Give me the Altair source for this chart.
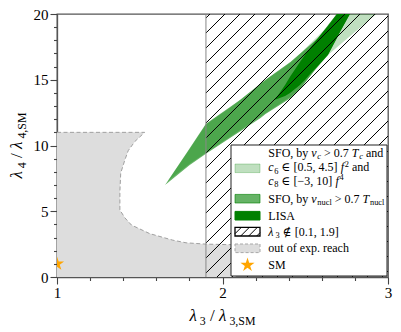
import altair as alt
import pandas as pd

FONT = "Liberation Serif, DejaVu Serif, serif"
W, H = 331, 263  # plot area in px

# ---------------- data ----------------
# out of experimental reach: boundary lambda3 as a function of lambda4
gray_l4 = [0.0, 2.45, 2.5, 2.6, 2.8, 3.3, 3.95, 4.5, 5.1, 6.5, 7.9, 8.9, 9.6, 10.3, 11.0]
gray_l3 = [2.08, 2.08, 1.90, 1.78, 1.70, 1.56, 1.45, 1.41, 1.38, 1.38, 1.385, 1.41, 1.43, 1.47, 1.53]

# SFO by v_c > 0.7 T_c and c6, c8 ranges (light)
light_l3 = [1.67, 1.80, 1.90, 2.05, 2.23, 2.41, 2.47, 2.64, 2.69, 2.77, 2.93]
light_lo = [7.3, 8.6, 9.45, 10.7, 12.2, 13.7, 14.4, 16.9, 17.45, 18.3, 20.0]
light_hi = [7.3, 9.7, 11.6, 12.9, 14.7, 16.3, 17.0, 19.1, 20.0, 20.0, 20.0]

# SFO by v_nucl > 0.7 T_nucl (medium)
sfo_l3 = [1.653, 1.80, 1.90, 2.05, 2.11, 2.23, 2.26, 2.41, 2.47, 2.58, 2.64, 2.69, 2.76, 2.77]
sfo_lo = [6.99, 8.5, 9.37, 10.6, 11.1, 12.1, 12.4, 13.6, 14.3, 16.1, 16.95, 18.2, 19.8, 20.0]
sfo_hi = [6.99, 9.76, 11.65, 12.97, 13.5, 14.72, 15.0, 16.35, 17.0, 18.2, 19.2, 20.0, 20.0, 20.0]

# LISA (dark)
lisa_l3 = [2.317, 2.378, 2.408, 2.468, 2.498, 2.529, 2.577, 2.637, 2.692, 2.710, 2.770]
lisa_lo = [13.47, 13.77, 14.0, 14.61, 14.99, 15.44, 16.05, 16.89, 18.18, 18.64, 20.0]
lisa_hi = [13.47, 14.61, 15.22, 16.35, 16.89, 17.42, 18.18, 19.09, 20.0, 20.0, 20.0]

# excluded lambda3 band
excl_l3 = [1.9, 3.0]

# Standard Model point
sm_l3 = [1.0]
sm_l4 = [1.0]

x_ticks = [round(1 + 0.2 * i, 1) for i in range(11)]
y_ticks = list(range(0, 21))

# ---------------- helpers ----------------
def px2x(px):
    return 1.0 + px / W * 2.0


def py2y(py):
    return 20.0 - py / H * 20.0


CW = {' ': 250, ',': 250, '.': 250, '[': 333, ']': 333, '\u2212': 564, '>': 564,
      '\u2208': 760, '\u2209': 760, '/': 278, '\u03bb': 550,
      'S': 556, 'F': 556, 'O': 722, 'L': 611, 'I': 333, 'A': 722, 'M': 889, 'T': 556,
      'a': 444, 'b': 500, 'c': 444, 'd': 500, 'e': 444, 'f': 278, 'h': 500, 'l': 278,
      'n': 500, 'o': 500, 'p': 500, 'r': 333, 't': 278, 'u': 500, 'v': 444, 'x': 500, 'y': 500}
for d in '0123456789':
    CW[d] = 500

STY = {'r': (False, 1.0, 0.0), 'i': (True, 1.0, 0.0), 'sub': (False, 0.7, 0.22),
       'isub': (True, 0.7, 0.22), 'sup': (False, 0.7, -0.4)}


def width(s, size):
    return sum(CW.get(ch, 500) for ch in s) / 1000.0 * size


def layout(segs, base, x0, y0, rotated=False):
    rows = []
    adv = 0.0
    for s, k in segs:
        it, sc, sh = STY[k]
        size = base * sc
        core = s.strip(' ')
        lead = len(s) - len(s.lstrip(' '))
        adv += lead * 0.25 * size
        if core:
            if rotated:
                px, py = x0 + sh * base, y0 - adv
            else:
                px, py = x0 + adv, y0 + sh * base
            rows.append(dict(x=px2x(px), y=py2y(py), text=core, fs=size, it=it))
            adv += width(core, size)
            if it and k == 'i':
                adv += 0.06 * size
            adv += (len(s) - len(s.rstrip(' '))) * 0.25 * size
    return rows, adv


def hatch(x0, x1, y0, y1, spacing, phase):
    """45-degree hatch segments (pixel space) clipped to a rectangle; returns data coords."""
    out = []
    c = phase
    while c - spacing > x0 + y0 - 2 * spacing:
        c -= spacing
    while c < x1 + y1 + spacing:
        lo = max(x0, c - y1)
        hi = min(x1, c - y0)
        if hi > lo:
            out.append(dict(x=px2x(lo), y=py2y(c - lo), x2=px2x(hi), y2=py2y(c - hi)))
        c += spacing
    return out


xscale = alt.Scale(domain=[1, 3], nice=False, zero=False)
yscale = alt.Scale(domain=[0, 20], nice=False, zero=False)

xaxis = alt.Axis(
    values=x_ticks, title=None, grid=False,
    labelExpr="abs(datum.value - round(datum.value)) < 0.001 ? format(datum.value, 'd') : ''",
    tickSize={"condition": {"test": "abs(datum.value - round(datum.value)) < 0.001", "value": 7}, "value": 3.5},
    labelFont=FONT, labelFontSize=15, labelColor="black", labelPadding=1,
    labelFlush=False, labelOverlap=False,
    domainColor="#555", domainWidth=1.3, tickColor="#444", tickWidth=1.1,
)
yaxis = alt.Axis(
    values=y_ticks, title=None, grid=False,
    labelExpr="datum.value % 5 === 0 ? datum.label : ''",
    tickSize={"condition": {"test": "datum.value % 5 === 0", "value": 7}, "value": 3.5},
    labelFont=FONT, labelFontSize=15, labelColor="black", labelPadding=2,
    labelFlush=False, labelOverlap=False,
    domainColor="#555", domainWidth=1.3, tickColor="#444", tickWidth=1.1,
)


def XE(f="x"):
    return alt.X(f + ":Q", scale=xscale, axis=xaxis, title=None)


def YE(f="y"):
    return alt.Y(f + ":Q", scale=yscale, axis=yaxis, title=None)


layers = []

# gray region
gdf = pd.DataFrame({"y": gray_l4, "x": gray_l3, "x2": [1.0] * len(gray_l4)})
layers.append(alt.Chart(gdf).mark_area(orient="horizontal", color="#dddddd", clip=True).encode(
    y=YE(), x=XE(), x2=alt.X2("x2:Q")))
out_x = [1.0, gray_l3[-1]] + gray_l3[::-1][1:]
out_y = [gray_l4[-1], gray_l4[-1]] + gray_l4[::-1][1:]
odf = pd.DataFrame({"x": out_x, "y": out_y, "o": list(range(len(out_x)))})
layers.append(alt.Chart(odf).mark_line(color="#a0a0a0", strokeWidth=1, strokeDash=[4, 2.5], clip=True).encode(
    x=XE(), y=YE(), order=alt.Order("o:Q")))

# green bands
for xs, lo, hi, op in [(light_l3, light_lo, light_hi, 0.25), (sfo_l3, sfo_lo, sfo_hi, 0.6),
                       (lisa_l3, lisa_lo, lisa_hi, 1.0)]:
    df = pd.DataFrame({"x": xs, "y": lo, "y2": hi})
    layers.append(alt.Chart(df).mark_area(color="#008000", opacity=op, clip=True).encode(
        x=XE(), y=YE(), y2=alt.Y2("y2:Q")))

# hatched excluded region
xa = (excl_l3[0] - 1.0) / 2.0 * W
hdf = pd.DataFrame(hatch(xa, W, 0, H, 15, 3))
layers.append(alt.Chart(hdf).mark_rule(color="black", strokeWidth=1, clip=True).encode(
    x=XE(), y=YE(), x2=alt.X2("x2:Q"), y2=alt.Y2("y2:Q")))
edf = pd.DataFrame({"x": [excl_l3[0]], "y": [0.0], "y2": [20.0]})
layers.append(alt.Chart(edf).mark_rule(color="#888", strokeWidth=1).encode(
    x=XE(), y=YE(), y2=alt.Y2("y2:Q")))

STAR = ("M0,-1L0.2245,-0.309L0.9511,-0.309L0.3633,0.118L0.5878,0.809L0,0.382"
        "L-0.5878,0.809L-0.3633,0.118L-0.9511,-0.309L-0.2245,-0.309Z")
sdf = pd.DataFrame({"x": sm_l3, "y": sm_l4})
layers.append(alt.Chart(sdf).mark_point(shape=STAR, filled=True, size=220, color="#ffa500",
                                        opacity=1, clip=True).encode(x=XE(), y=YE()))

# ---------------- legend ----------------
LB = dict(x0=174, x1=330, y0=131, y1=262)
bdf = pd.DataFrame([dict(x=px2x(LB["x0"]), x2=px2x(LB["x1"]), y=py2y(LB["y0"]), y2=py2y(LB["y1"]))])
layers.append(alt.Chart(bdf).mark_rect(fill="white", stroke="#222", strokeWidth=1).encode(
    x=XE(), x2=alt.X2("x2:Q"), y=YE(), y2=alt.Y2("y2:Q")))

PX0, PX1, PH = 178, 203, 4.3
centers = [154.3, 184.7, 201.7, 217.7, 234.3]


def patch_df(cy):
    return pd.DataFrame([dict(x=px2x(PX0), x2=px2x(PX1), y=py2y(cy - PH), y2=py2y(cy + PH))])


for cy, op in zip(centers[:3], [0.25, 0.6, 1.0]):
    layers.append(alt.Chart(patch_df(cy)).mark_rect(fill="#008000", fillOpacity=op, stroke="#008000",
                                                     strokeOpacity=op, strokeWidth=1).encode(
        x=XE(), x2=alt.X2("x2:Q"), y=YE(), y2=alt.Y2("y2:Q")))
# hatch patch
layers.append(alt.Chart(patch_df(centers[3])).mark_rect(fill="white", stroke="black", strokeWidth=1.3).encode(
    x=XE(), x2=alt.X2("x2:Q"), y=YE(), y2=alt.Y2("y2:Q")))
lh = pd.DataFrame(hatch(PX0, PX1, centers[3] - PH, centers[3] + PH, 8, PX0 + centers[3] + 2))
layers.append(alt.Chart(lh).mark_rule(color="black", strokeWidth=1).encode(
    x=XE(), y=YE(), x2=alt.X2("x2:Q"), y2=alt.Y2("y2:Q")))
# gray patch
layers.append(alt.Chart(patch_df(centers[4])).mark_rect(fill="#dddddd", stroke="#a8a8a8", strokeWidth=1,
                                                         strokeDash=[3, 2]).encode(
    x=XE(), x2=alt.X2("x2:Q"), y=YE(), y2=alt.Y2("y2:Q")))
# star
stdf = pd.DataFrame([dict(x=px2x((PX0 + PX1) / 2), y=py2y(251))])
layers.append(alt.Chart(stdf).mark_point(shape=STAR, filled=True, size=220, color="#ffa500", opacity=1).encode(
    x=XE(), y=YE()))

TX = 211.3
leg_lines = [
    (142.7, [("SFO, by ", "r"), ("v", "i"), ("c", "isub"), (" > 0.7 ", "r"), ("T", "i"), ("c", "isub"), (" and", "r")]),
    (157.3, [("c", "i"), ("6", "sub"), (" \u2208 [0.5, 4.5] ", "r"), ("f", "i"), ("2", "sup"), (" and", "r")]),
    (170.7, [("c", "i"), ("8", "sub"), (" \u2208 [\u22123, 10] ", "r"), ("f", "i"), ("4", "sup")]),
    (188.7, [("SFO, by ", "r"), ("v", "i"), ("nucl", "sub"), (" > 0.7 ", "r"), ("T", "i"), ("nucl", "sub")]),
    (205.7, [("LISA", "r")]),
    (221.7, [("\u03bb", "i"), ("3", "sub"), (" \u2209 [0.1, 1.9]", "r")]),
    (238.3, [("out of exp. reach", "r")]),
    (255.0, [("SM", "r")]),
]
rows = []
for yb, segs in leg_lines:
    r, _ = layout(segs, 12, TX, yb)
    rows += r

# x-axis title
xt = [("\u03bb", "i"), ("3", "sub"), (" / ", "r"), ("\u03bb", "i"), ("3,SM", "sub")]
_, tw = layout(xt, 17, 0, 0)
r, _ = layout(xt, 17, W / 2 - tw / 2, 307)
rows += r

# y-axis title (rotated)
yt = [("\u03bb", "i"), ("4", "sub"), (" / ", "r"), ("\u03bb", "i"), ("4,SM", "sub")]
_, th = layout(yt, 17, 0, 0, rotated=True)
rrows, _ = layout(yt, 17, -35, H / 2 + th / 2, rotated=True)


def text_layer(rs, italic, angle=0):
    df = pd.DataFrame([q for q in rs if q["it"] == italic])
    return alt.Chart(df).mark_text(align="left", baseline="alphabetic", font=FONT,
                                   fontStyle="italic" if italic else "normal",
                                   color="black", angle=angle).encode(
        x=XE(), y=YE(), text="text:N", size=alt.Size("fs:Q", scale=None))


layers.append(text_layer(rows, False))
layers.append(text_layer(rows, True))
layers.append(text_layer(rrows, False, 270))
layers.append(text_layer(rrows, True, 270))

chart = alt.layer(*layers).properties(
    width=W, height=H,
    autosize=alt.AutoSizeParams(type="none"),
    padding={"left": 49, "top": 6, "right": 5, "bottom": 50},
    background="white",
).configure_view(stroke="#555", strokeWidth=1.3)

chart.save("out.html", embed_options={"renderer": "svg", "actions": False})
